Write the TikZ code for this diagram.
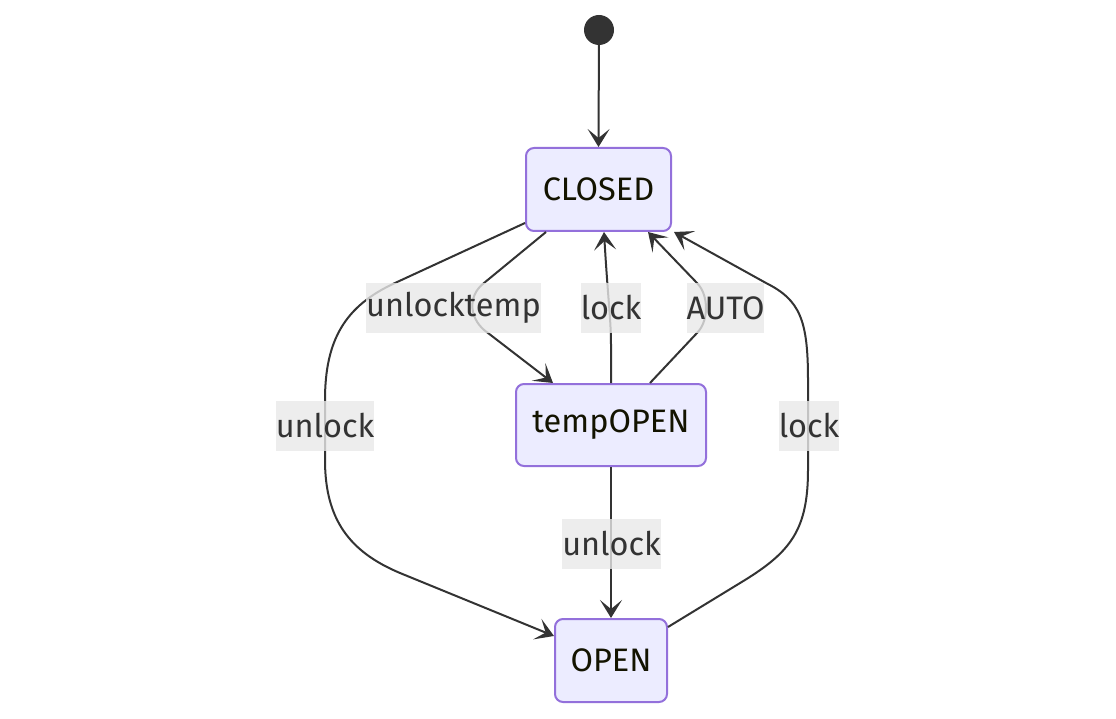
\documentclass[tikz,border=0pt]{standalone}
\usepackage{fontspec}
\setmainfont{Fira Sans}
\usetikzlibrary{arrows.meta,calc}
\definecolor{nodefill}{HTML}{ECECFF}
\definecolor{nodeline}{HTML}{9370DB}
\definecolor{edgecol}{HTML}{333333}
\definecolor{lblfill}{HTML}{E8E8E8}
\definecolor{nodetext}{HTML}{131300}
\begin{document}
\begin{tikzpicture}[x=1pt,y=-1pt,
  state/.style={draw=nodeline, fill=nodefill, line width=2pt, rounded corners=8pt,
    minimum height=83pt, inner sep=0pt, text=nodetext, font=\fontsize{32.5}{38}\selectfont},
  lbl/.style={fill=lblfill, fill opacity=0.8, text opacity=1, text=edgecol,
    inner xsep=0pt, inner ysep=0pt, minimum height=50pt, font=\fontsize{32.5}{38}\selectfont},
  edge/.style={draw=edgecol, line width=2pt, -{Stealth[length=18pt,width=22pt,inset=9pt]}}]
\useasboundingbox (0,0) rectangle (1116,719);
\node[circle, fill=edgecol, minimum size=30pt, inner sep=0pt] (S) at (599,30) {};
\node[state, minimum width=145pt] (C) at (598.5,189.5) {CLOSED};
\node[state, minimum width=190pt, minimum height=82pt] (T) at (611,425) {tempOPEN};
\node[state, minimum width=112pt] (O) at (611,660.5) {OPEN};
% edges
\draw[edge] (S) -- (C.north);
\draw[edge] ($(C.south west)+(0,-9)$) -- (395,283)
  .. controls (345,306) and (325,340) .. (325,400) -- (325,460)
  .. controls (325,520) and (350,552) .. (400,573) -- ($(O.north west)+(0,18)$);
\draw[edge] ($(C.south west)+(21,0)$) -- (484,283)
  .. controls (466,297) and (470,321) .. (488,333) -- ($(T.north west)+(38,0)$);
\draw[edge] (T.north) -- (611,345) .. controls (611,320) and (608,300) .. ($(C.south)+(5.5,0)$);
\draw[edge] ($(T.north west)+(135,0)$) -- (697,333)
  .. controls (709,321) and (709,295) .. (697,283) -- ($(C.south east)+(-24,0)$);
\draw[edge] ($(O.north east)+(0,9)$) -- (745,580)
  .. controls (790,552) and (808,530) .. (808,470) -- (808,380)
  .. controls (808,320) and (800,300) .. (766,283) -- ($(C.south east)+(2,0)$);
\draw[edge] (T.south) -- (O.north);
% labels
\node[lbl] (l1) at (453.5,308) {unlocktemp};
\node[lbl] (l2) at (611,308) {lock};
\node[lbl] (l3) at (725.5,308) {AUTO};
\node[lbl] (l4) at (325,425.5) {unlock};
\node[lbl] (l5) at (809,425.5) {lock};
\node[lbl] (l6) at (611.5,543.5) {unlock};
\end{tikzpicture}
\end{document}
